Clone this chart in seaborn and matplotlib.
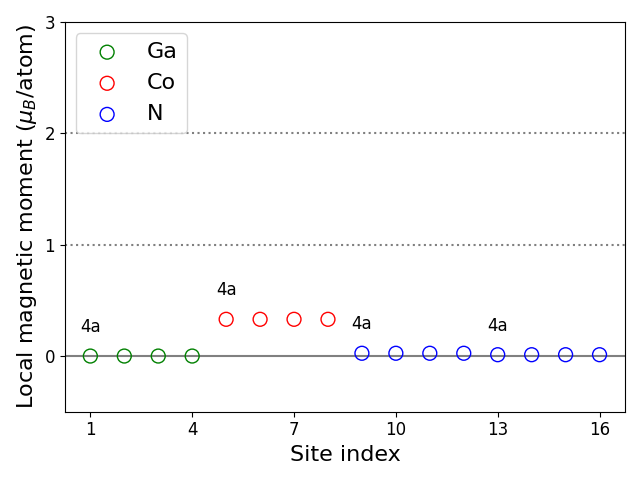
import seaborn as sns
import pandas as pd
import matplotlib.pyplot as plt
import numpy as np

ga_sites = [1, 2, 3, 4]
ga_moments = [0.0, 0.0, 0.0, 0.0]
co_sites = [5, 6, 7, 8]
co_moments = [0.33, 0.33, 0.33, 0.33]
n_sites = [9, 10, 11, 12, 13, 14, 15, 16]
n_moments = [0.025, 0.025, 0.025, 0.025, 0.012, 0.012, 0.012, 0.012]

wyckoff_sites = [1, 5, 9, 13]
wyckoff_labels = ["4a", "4a", "4a", "4a"]
wyckoff_heights = [0.0, 0.33, 0.025, 0.012]

groups = [("Ga", ga_sites, ga_moments, "green"),
          ("Co", co_sites, co_moments, "red"),
          ("N", n_sites, n_moments, "blue")]

fig, ax = plt.subplots(figsize=(6.4, 4.8))

ax.axhline(0, color="gray", lw=1.5, zorder=1)
for lev in [1, 2]:
    ax.axhline(lev, color="gray", ls=":", lw=1.5, zorder=1)

for name, sites, moms, col in groups:
    df = pd.DataFrame({"site": sites, "moment": moms})
    sns.scatterplot(data=df, x="site", y="moment", ax=ax, s=100,
                    facecolors="none", edgecolor=col, linewidth=1,
                    label=name, zorder=3)

for xs, lab, h in zip(wyckoff_sites, wyckoff_labels, wyckoff_heights):
    ax.text(xs, h + 0.18, lab, ha="center", va="bottom", fontsize=12)

ax.set_ylim(-0.5, 3)
ax.set_xticks([1, 4, 7, 10, 13, 16])
ax.set_yticks([0, 1, 2, 3])
ax.tick_params(labelsize=12)
ax.set_xlabel("Site index", fontsize=16)
ax.set_ylabel(r"Local magnetic moment ($\mu_B$/atom)", fontsize=16)
ax.legend(loc="upper left", fontsize=16)

plt.tight_layout()
plt.savefig("out.png", dpi=100)
